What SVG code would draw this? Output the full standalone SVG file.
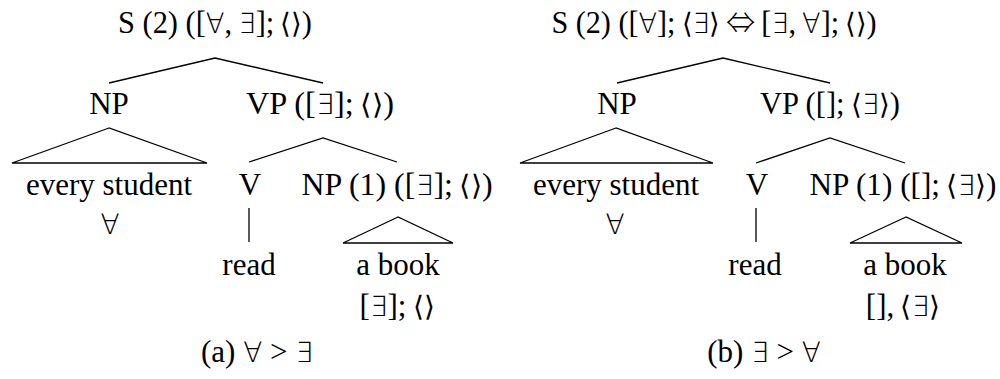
<svg xmlns="http://www.w3.org/2000/svg" width="1000" height="379" viewBox="0 0 1000 379">
<style>
text{font-family:"Liberation Serif","DejaVu Serif",serif;font-size:31px;fill:#000;text-anchor:middle}
.m{font-family:"DejaVu Sans","Noto Sans",sans-serif;font-weight:200;font-size:28px}
.a{font-family:"Noto Sans CJK JP","DejaVu Serif",sans-serif;font-weight:300;font-size:30px}
.e{stroke:#000;stroke-width:1.3;fill:none}
</style>
<rect width="1000" height="379" fill="#fff"/>
<g id="connectors">
<polyline class="e" points="109,83 215,58 323,83"/>
<polygon class="e" points="109,128 12,163 207,163"/>
<polyline class="e" points="249,162 323,138 397,162"/>
<line class="e" x1="249" y1="208" x2="249" y2="242"/>
<polygon class="e" points="398,217 343,243 453,243"/>
<polyline class="e" points="617,83 723,58 830,83"/>
<polygon class="e" points="616,128 520,163 713,163"/>
<polyline class="e" points="756,163 830,138 905,163"/>
<line class="e" x1="756" y1="208" x2="756" y2="242"/>
<polygon class="e" points="906,217 850,243 962,243"/>
</g>
<g id="a-S"><text x="215" y="33" textLength="194" lengthAdjust="spacingAndGlyphs">S (2) ([<tspan class="m">∀</tspan>,&#8201;<tspan class="m">∃</tspan>];&#8201;<tspan class="m">⟨⟩</tspan>)</text></g>
<g id="a-NP"><text x="109" y="114">NP</text></g>
<g id="a-VP"><text x="320" y="114" textLength="148" lengthAdjust="spacingAndGlyphs">VP ([<tspan class="m">∃</tspan>];&#8201;<tspan class="m">⟨⟩</tspan>)</text></g>
<g id="a-every"><text x="109" y="195">every student</text><text x="110" y="234" class="m">∀</text></g>
<g id="a-V"><text x="250" y="195">V</text></g>
<g id="a-read"><text x="249" y="275">read</text></g>
<g id="a-NP1"><text x="397" y="195" textLength="191" lengthAdjust="spacingAndGlyphs">NP (1) ([<tspan class="m">∃</tspan>];&#8201;<tspan class="m">⟨⟩</tspan>)</text></g>
<g id="a-book"><text x="398" y="275">a book</text><text x="397" y="316">[<tspan class="m">∃</tspan>];&#8201;<tspan class="m">⟨⟩</tspan></text></g>
<g id="a-cap"><text x="257" y="362">(a) <tspan class="m">∀</tspan> &gt; <tspan class="m">∃</tspan></text></g>
<g id="b-S"><text x="714" y="33" textLength="325" lengthAdjust="spacingAndGlyphs">S (2) ([<tspan class="m">∀</tspan>];&#8201;<tspan class="m">⟨∃⟩</tspan>&#8201;<tspan class="a">⇔</tspan>&#8201;[<tspan class="m">∃</tspan>,&#8201;<tspan class="m">∀</tspan>];&#8201;<tspan class="m">⟨⟩</tspan>)</text></g>
<g id="b-NP"><text x="617" y="114">NP</text></g>
<g id="b-VP"><text x="830" y="114" textLength="140" lengthAdjust="spacingAndGlyphs">VP ([];&#8201;<tspan class="m">⟨∃⟩</tspan>)</text></g>
<g id="b-every"><text x="616" y="195">every student</text><text x="615" y="234" class="m">∀</text></g>
<g id="b-V"><text x="757" y="195">V</text></g>
<g id="b-read"><text x="755" y="275">read</text></g>
<g id="b-NP1"><text x="903" y="195" textLength="187" lengthAdjust="spacingAndGlyphs">NP (1) ([];&#8201;<tspan class="m">⟨∃⟩</tspan>)</text></g>
<g id="b-book"><text x="905" y="275">a book</text><text x="903" y="316">[],&#8201;<tspan class="m">⟨∃⟩</tspan></text></g>
<g id="b-cap"><text x="764" y="362">(b) <tspan class="m">∃</tspan> &gt; <tspan class="m">∀</tspan></text></g>
</svg>
